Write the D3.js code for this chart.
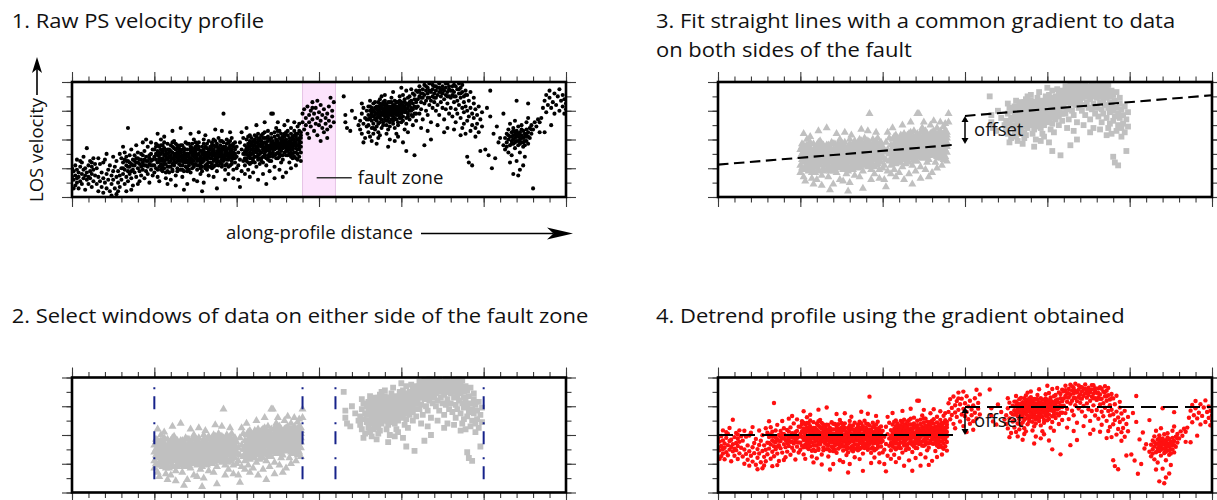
<!DOCTYPE html>
<html>
<head>
<meta charset="utf-8">
<script src="https://cdn.jsdelivr.net/npm/d3@7"></script>
<style>
  body { margin: 0; background: #fff; }
  svg { display: block; }
  text { font-family: 'Open Sans', 'Noto Sans', sans-serif; fill: #111; }
</style>
</head>
<body>
<svg id="fig" width="1217" height="500"></svg>
<script>
// Persistent-scatterer samples along the profile, flat [distance, velocity, ...] lists.
// Distance runs 0–300 along the profile, LOS velocity 0–80 (arbitrary units).
const westFlank = [
  1,12, 1,18, 2,8, 2,15, 2,22, 3,10, 3,19, 3,26, 4,6, 4,14, 4,17, 5,21, 5,11, 6,16, 6,24, 6,9,
  7,13, 7,19, 7,28, 8,15, 8,20, 8,5, 9,12, 9,17, 9,34, 10,22, 10,14, 10,9, 11,18, 11,25, 11,13,
  12,16, 12,21, 12,7, 13,19, 13,27, 13,11, 14,15, 14,23, 0,14, 0,20, 1,6, 5,25, 3,13, 12,24,
  15,9, 15,20, 16,4, 16,14, 17,11, 17,23, 18,7, 18,17, 19,3, 19,13, 20,10, 20,26, 21,6, 21,16,
  22,19, 22,12, 23,4, 23,22, 24,9, 24,15, 25,28, 25,18, 25,12, 26,6, 26,21, 27,14, 27,2, 27,25,
  28,10, 28,18, 29,15, 29,30, 29,7, 16,27, 21,30, 24,1, 28,4, 19,24
];
const westRise = [
  30,12, 30,20, 30,27, 31,16, 31,24, 32,9, 32,19, 32,31, 33,14, 33,22, 33,28, 34,18, 34,25, 34,11,
  35,21, 35,29, 35,16, 36,23, 36,33, 36,13, 37,19, 37,26, 37,8, 38,22, 38,29, 38,17, 39,24, 39,14,
  39,36, 40,20, 40,27, 40,31, 41,18, 41,23, 41,11, 42,26, 42,21, 42,15, 43,29, 43,24, 43,19, 44,22,
  44,32, 44,13, 45,25, 45,18, 45,28, 46,21, 46,35, 46,16, 47,27, 47,23, 47,10, 48,30, 48,19, 48,25,
  49,22, 49,33, 49,15, 34,48, 36,5, 43,38, 31,35, 45,40, 40,9, 48,38, 33,4,
  31,20, 33,25, 35,24, 37,22, 39,27, 41,26, 43,22, 45,22, 47,29, 49,26, 32,26, 36,18, 40,24, 44,26,
  48,22, 34,21, 38,25, 42,30, 46,25
];
const westCloud = [
  50,28, 50,22, 50,33, 50,17, 51,26, 51,30, 51,20, 51,37, 52,24, 52,29, 52,14, 52,32, 53,27, 53,21,
  53,35, 53,25, 54,30, 54,19, 54,26, 54,23, 54,40, 52,44, 53,11,
  55,27, 55,31, 55,22, 55,18, 56,29, 56,25, 56,34, 56,20, 57,28, 57,23, 57,32, 57,13, 58,26, 58,30,
  58,21, 58,37, 59,24, 59,28, 59,33, 59,17, 56,42, 58,9, 55,36,
  60,29, 60,25, 60,32, 60,21, 61,27, 61,23, 61,35, 61,18, 62,30, 62,26, 62,22, 62,39, 63,28, 63,24,
  63,33, 63,15, 64,27, 64,31, 64,20, 64,36, 61,46, 63,8, 60,12,
  65,26, 65,30, 65,23, 65,34, 66,28, 66,19, 66,32, 66,25, 67,29, 67,22, 67,36, 67,27, 68,24, 68,31,
  68,18, 68,27, 69,30, 69,26, 69,21, 69,38, 66,48, 68,5, 67,14,
  70,28, 70,24, 70,33, 70,20, 71,30, 71,26, 71,22, 71,37, 72,27, 72,31, 72,17, 72,24, 73,29, 73,34,
  73,23, 73,26, 74,28, 74,21, 74,32, 74,40, 72,44, 74,12, 70,9,
  75,27, 75,31, 75,23, 75,35, 76,29, 76,25, 76,19, 76,33, 77,30, 77,26, 77,22, 77,38, 78,28, 78,32,
  78,24, 78,16, 79,27, 79,30, 79,21, 79,35, 77,45, 76,11, 79,4,
  80,29, 80,33, 80,25, 80,37, 81,31, 81,27, 81,22, 81,35, 82,30, 82,26, 82,34, 82,19, 83,32, 83,28,
  83,24, 83,39, 84,30, 84,27, 84,35, 84,21, 81,43, 83,15, 80,10,
  85,31, 85,27, 85,36, 85,23, 86,29, 86,33, 86,25, 86,40, 87,30, 87,35, 87,22, 87,28, 88,32, 88,27,
  88,37, 88,18, 89,30, 89,25, 89,34, 89,41, 87,47, 86,14, 88,6,
  90,32, 90,28, 90,36, 90,24, 91,30, 91,34, 91,26, 91,21, 92,33, 92,29, 92,38, 92,25, 93,31, 93,27,
  93,35, 93,19, 94,29, 94,33, 94,23, 94,40, 92,58, 91,46, 93,12,
  95,30, 95,34, 95,26, 95,38, 96,32, 96,28, 96,22, 96,36, 97,29, 97,33, 97,25, 97,41, 98,31, 98,27,
  98,35, 98,19, 99,30, 99,24, 99,33, 99,38, 96,45, 98,13, 95,16,
  51,35, 52,19, 53,31, 54,36, 55,20, 56,38, 57,17, 58,33, 59,21, 60,36, 61,19, 62,28, 63,37, 64,18,
  65,32, 66,36, 67,19, 68,34, 69,28, 70,37, 71,19, 72,35, 73,20, 74,25, 75,38, 76,22, 77,35, 78,20,
  79,24, 80,40, 81,20, 82,37, 83,21, 84,24, 85,38, 86,21, 87,39, 88,24, 89,22, 90,39, 91,23, 92,35,
  93,22, 94,37, 95,21, 96,39, 97,23, 98,37, 99,27, 52,36, 55,33, 58,18, 61,38, 64,34, 67,33, 70,18,
  73,37, 76,36, 79,18, 82,21, 85,20, 88,35, 91,39, 94,26, 97,36
];
const westCloudEast = [
  100,28, 100,35, 101,31, 101,22, 102,38, 102,26, 103,33, 103,18, 104,30, 104,41, 101,12, 103,45,
  100,20, 104,25, 102,7,
  105,32, 105,36, 105,27, 105,22, 106,34, 106,30, 106,40, 106,25, 107,33, 107,29, 107,37, 107,19,
  108,35, 108,31, 108,27, 108,43, 109,33, 109,38, 109,24, 109,30, 106,48, 108,14, 105,16,
  110,34, 110,30, 110,39, 110,25, 111,36, 111,32, 111,28, 111,43, 112,35, 112,31, 112,38, 112,21,
  113,33, 113,37, 113,29, 113,26, 114,36, 114,32, 114,41, 114,23, 112,50, 110,17, 113,12,
  115,35, 115,31, 115,39, 115,27, 116,37, 116,33, 116,44, 116,24, 117,34, 117,38, 117,30, 117,28,
  118,36, 118,32, 118,41, 118,22, 119,35, 119,39, 119,29, 119,46, 117,52, 116,16, 118,9,
  120,36, 120,32, 120,40, 120,28, 121,38, 121,34, 121,44, 121,25, 122,35, 122,39, 122,31, 122,58,
  123,37, 123,33, 123,42, 123,21, 124,36, 124,40, 124,30, 124,48, 121,58, 120,18, 123,13,
  125,35, 125,39, 125,31, 125,43, 126,37, 126,33, 126,28, 126,46, 127,36, 127,40, 127,32, 127,24,
  128,38, 128,34, 128,42, 128,29, 129,35, 129,39, 129,31, 129,50, 126,19, 128,14, 125,52,
  130,36, 130,40, 130,32, 130,45, 131,38, 131,34, 131,29, 131,43, 132,37, 132,41, 132,33, 132,24,
  133,35, 133,39, 133,31, 133,48, 134,37, 134,42, 134,33, 134,27, 131,53, 133,20, 130,17,
  135,36, 135,40, 135,31, 135,46, 136,38, 136,34, 136,42, 136,27, 137,36, 137,30, 137,44, 137,49,
  138,39, 138,33, 138,28, 138,41, 139,35, 139,45, 139,38, 139,25, 136,22, 138,51, 135,52,
  105,30, 106,27, 107,42, 108,23, 109,41, 110,27, 111,24, 112,42, 113,40, 114,27, 115,43, 116,28,
  117,41, 118,27, 119,42, 120,25, 121,41, 122,28, 123,45, 124,27, 125,46, 126,30, 127,44, 128,26,
  129,44, 130,29, 131,46, 132,30, 133,44, 134,30, 135,43, 136,31, 137,33, 138,46, 139,31, 107,24,
  111,40, 115,25, 119,26, 123,29, 127,29, 131,32, 135,28, 139,43, 109,27, 113,44, 117,45, 121,30,
  125,27, 129,42, 133,28, 137,26
];
const faultZonePoints = [
  140,52, 140,58, 141,47, 141,61, 142,55, 142,50, 143,63, 143,44, 144,57, 144,52, 145,49, 145,60,
  146,54, 146,66, 147,46, 147,58, 148,51, 148,62, 149,55, 149,43, 150,59, 150,50, 151,53, 151,64,
  152,48, 152,57, 153,61, 153,45, 154,55, 154,51, 155,58, 155,41, 156,63, 156,53, 157,69, 157,49,
  158,56, 158,60, 159,52, 159,66, 144,41, 151,39, 155,47, 146,62, 149,67,
  165,70, 166,57, 167,48, 166,52, 169,46, 172,55, 170,60, 174,50
];
const eastCloud = [
  175,53, 175,47, 176,58, 176,44, 177,51, 177,62, 178,55, 178,41, 179,49, 179,60, 177,38, 176,65, 179,54,
  180,57, 180,50, 180,63, 180,45, 181,55, 181,60, 181,42, 181,67, 182,53, 182,58, 182,48, 182,62,
  183,56, 183,51, 183,65, 183,44, 184,59, 184,54, 184,62, 184,47, 182,39,
  185,58, 185,53, 185,63, 185,49, 186,60, 186,56, 186,66, 186,45, 187,57, 187,62, 187,52, 187,68,
  188,59, 188,54, 188,64, 188,48, 189,61, 189,57, 189,52, 189,66, 186,41, 188,70, 185,37, 187,43,
  190,58, 190,62, 190,54, 190,67, 191,60, 191,56, 191,50, 191,64, 192,59, 192,63, 192,55, 192,47,
  193,61, 193,57, 193,66, 193,52, 194,59, 194,63, 194,54, 194,69, 191,44, 193,40, 190,71, 192,35,
  195,60, 195,56, 195,64, 195,51, 196,62, 196,58, 196,67, 196,48, 197,59, 197,63, 197,54, 197,44,
  198,61, 198,57, 198,66, 198,50, 199,60, 199,64, 199,55, 199,70, 196,39, 198,42, 195,73,
  200,62, 200,58, 200,66, 200,52, 201,60, 201,64, 201,56, 201,71, 202,63, 202,59, 202,68, 202,47,
  203,61, 203,65, 203,55, 203,74, 204,62, 204,58, 204,69, 204,45, 201,38, 203,32, 200,76,
  205,64, 205,60, 205,70, 205,54, 206,62, 206,67, 206,57, 206,75, 207,65, 207,61, 207,72, 207,50,
  208,63, 208,68, 208,58, 208,29, 209,66, 209,62, 209,74, 209,53,
  180,54, 181,63, 183,48, 184,66, 185,55, 186,51, 187,65, 189,50, 190,65, 191,53, 193,49, 194,66,
  195,53, 197,66, 198,52, 199,67, 200,64, 201,53, 202,66, 203,51, 204,56, 205,66, 206,60, 207,56,
  208,71, 209,58, 182,60, 186,63, 189,64, 192,66
];
const eastUpper = [
  210,68, 210,73, 210,63, 211,70, 211,77, 211,58, 212,66, 212,72, 212,61, 213,75, 213,69, 213,54,
  214,71, 214,78, 214,65, 215,67, 215,74, 215,60, 216,72, 216,76, 216,57, 217,69, 217,79, 217,64,
  218,73, 218,67, 218,52, 219,75, 219,70, 219,62, 212,48, 216,46, 218,40, 214,36,
  220,72, 220,77, 220,66, 221,74, 221,69, 221,60, 222,76, 222,71, 222,64, 223,73, 223,79, 223,57,
  224,70, 224,75, 224,66, 225,77, 225,62, 225,72, 226,74, 226,68, 226,54, 227,76, 227,71, 227,61,
  228,73, 228,79, 228,65, 229,70, 229,75, 229,58, 222,50, 226,45, 228,48,
  230,74, 230,69, 230,62, 231,77, 231,71, 231,56, 232,73, 232,66, 232,78, 233,70, 233,61, 233,52,
  234,75, 234,67, 234,58, 235,72, 235,79, 235,64, 236,69, 236,55, 236,76, 237,73, 237,62, 237,48,
  238,70, 238,66, 238,59, 239,74, 239,63, 239,44, 232,47, 236,43, 238,51,
  240,71, 240,60, 240,53, 240,28, 241,67, 241,56, 241,24, 242,73, 242,62, 242,46, 243,58, 243,50,
  243,22, 244,65, 244,55, 244,69, 245,48, 245,61, 245,42, 246,57, 246,51, 247,63, 247,45, 248,54,
  248,32, 249,49, 249,59,
  211,74, 213,72, 215,77, 217,74, 219,78, 221,77, 223,76, 225,75, 227,79, 229,77, 231,74, 233,77,
  235,75, 237,78, 239,71, 212,69, 216,69, 220,69, 224,73, 228,70, 232,70, 236,72
];
const eastTail = [
  251,33, 253,29, 254,56, 254,74, 256,44, 258,49, 259,38, 260,41, 262,58, 257,27, 252,62, 255,20,
  262,36, 263,41, 263,33, 264,44, 264,38, 265,40, 265,47, 265,31, 266,42, 266,36, 266,51, 267,39,
  267,45, 267,29, 268,43, 268,37, 268,48, 269,41, 269,34, 269,53, 270,44, 270,39, 270,25, 270,46,
  271,42, 271,36, 271,49, 272,40, 272,45, 272,31, 272,19, 273,43, 273,38, 273,50, 274,41, 274,46,
  274,35, 274,22, 275,44, 275,39, 275,28, 276,47, 276,42, 276,52, 277,45, 277,37, 277,55, 278,48,
  278,41, 279,50, 279,44, 280,47, 280,6, 281,52, 282,49, 283,54, 284,45, 270,67, 277,65, 266,24,
  268,16, 271,15,
  265,43, 267,37, 269,45, 271,39, 273,47, 275,36, 277,42, 279,47, 264,35, 272,37, 276,39, 268,46,
  285,55, 286,62, 287,67, 288,71, 288,59, 289,64, 290,69, 290,74, 291,62, 292,66, 293,72, 293,58,
  294,64, 295,70, 296,60, 296,75, 297,67, 298,63, 298,71, 299,58, 299,68, 300,65, 300,61, 287,45,
  291,50, 284,52
];
// Tightly packed samples at the cores of the main clusters
const clusterCores = [
  53,29, 55,25, 57,30, 58,27, 60,27, 61,31, 62,24, 63,30, 64,25, 65,28, 66,31, 67,25, 68,29, 69,24,
  70,30, 71,28, 72,33, 73,25, 74,30, 75,29, 76,27, 77,33, 78,26, 79,32, 80,31, 81,29, 82,28, 83,30,
  84,33, 85,29, 86,31, 87,26, 88,30, 89,28, 90,30, 91,32, 92,27, 93,33, 94,31, 95,28, 96,30, 97,31,
  98,29, 54,33, 56,23, 59,31, 62,34, 66,22, 71,25, 75,33, 78,22, 82,23, 86,36, 89,32, 93,29, 96,34,
  57,26, 64,29, 69,33, 73,31, 80,27, 85,34, 91,28, 97,27,
  106,32, 107,35, 108,29, 109,36, 110,32, 111,38, 112,33, 113,35, 114,30, 115,37, 116,35, 117,32,
  118,38, 119,33, 120,34, 121,36, 122,37, 123,35, 124,38, 125,37, 126,35, 127,38, 128,36, 129,37,
  130,38, 131,36, 132,39, 133,37, 134,35, 135,38, 136,36, 137,40, 138,37, 139,41, 108,39, 112,28,
  116,41, 120,30, 124,34, 128,40, 132,35, 136,44, 110,36, 114,39, 118,34, 122,33, 126,41, 130,34,
  134,40, 138,35,
  182,56, 183,60, 184,57, 185,61, 186,58, 187,55, 187,60, 188,62, 189,59, 190,56, 190,60, 191,62,
  191,58, 192,57, 192,61, 193,59, 193,63, 194,57, 194,61, 195,58, 195,62, 196,60, 196,55, 197,61,
  197,57, 198,59, 198,63, 199,62, 199,57, 200,60, 201,62, 202,61, 203,59, 204,64, 188,57, 192,53,
  196,64, 200,55,
  268,40, 270,42, 272,43, 274,38, 271,44, 273,41, 269,38, 275,42, 267,42, 276,44
];

// Profile geometry and fit results
const faultZone = [140, 160];
const westWindow = [50, 140];
const eastWindow = [160, 250];
const faultPosition = 150;
const westFitEnd = 144;
const fitGradient = 0.096;
const westIntercept = 22.5;
const eastIntercept = 42;
const detrendedWestLevel = 40;

const xMinorTicks = d3.range(0, 301, 10);
const xMajorTicks = d3.range(0, 301, 50);
const yMinorTicks = d3.range(0, 81, 10);
const yMajorTicks = d3.range(0, 81, 20);

const panelTitles = {
  raw: ["1. Raw PS velocity profile"],
  windows: ["2. Select windows of data on either side of the fault zone"],
  fit: ["3. Fit straight lines with a common gradient to data", "on both sides of the fault"],
  detrended: ["4. Detrend profile using the gradient obtained"]
};

// ---------------------------------------------------------------------------
const svg = d3.select("#fig");
const W = 494, H = 115;
const x = d3.scaleLinear().domain([0, 300]).range([0, W]);
const y = d3.scaleLinear().domain([0, 80]).range([H, 0]);

const profile = [westFlank, westRise, westCloud, westCloudEast, faultZonePoints, eastCloud, eastUpper, eastTail, clusterCores]
  .flatMap(arr => d3.range(0, arr.length, 2).map(i => ({ dist: arr[i], vel: arr[i + 1] })));
const within = (p, w) => p.dist >= w[0] && p.dist <= w[1];
const westSelection = profile.filter(p => within(p, westWindow));
const eastSelection = profile.filter(p => within(p, eastWindow));
const detrended = profile.map(p => ({
  dist: p.dist,
  vel: p.vel - fitGradient * p.dist + (detrendedWestLevel - westIntercept)
}));

const gray = "#c0c0c0";

// Text is positioned through transforms so it can be widened slightly to the caption widths
const textItems = [];
function addText(parent, kind, tx, ty, str, rot = 0, anchor = "start") {
  const t = parent.append("text").attr("class", kind).attr("text-anchor", anchor).text(str);
  textItems.push({ t, tx, ty, rot, kind });
  return t;
}

function makePanel(id, left, top) {
  const g = svg.append("g").attr("transform", `translate(${left},${top})`);
  g.append("clipPath").attr("id", "clip-" + id)
    .append("rect").attr("x", -1).attr("y", -1).attr("width", W + 2).attr("height", H + 2);
  const plot = g.append("g").attr("clip-path", `url(#clip-${id})`);
  return { g, plot };
}

function finishPanel(g) {
  const sides = [
    [() => d3.axisTop(x), "translate(0,0)", xMinorTicks, xMajorTicks],
    [() => d3.axisBottom(x), `translate(0,${H})`, xMinorTicks, xMajorTicks],
    [() => d3.axisLeft(y), "translate(0,0)", yMinorTicks, yMajorTicks],
    [() => d3.axisRight(y), `translate(${W},0)`, yMinorTicks, yMajorTicks]
  ];
  sides.forEach(([make, tr, minor, major]) => {
    [[minor, 5.5], [major, 10]].forEach(([vals, size]) => {
      g.append("g").attr("transform", tr)
        .call(make().tickValues(vals).tickSize(size).tickFormat(""))
        .call(a => a.select(".domain").remove())
        .selectAll("line").attr("stroke", "#3a3a3a").attr("stroke-width", 1.1);
    });
  });
  g.append("rect").attr("width", W).attr("height", H)
    .attr("fill", "none").attr("stroke", "#000").attr("stroke-width", 2.6);
}

function arrowHead(g, x1, y1, x2, y2, len, wid, notch, color) {
  const dx = x2 - x1, dy = y2 - y1, L = Math.hypot(dx, dy);
  const ux = dx / L, uy = dy / L, nx = -uy, ny = ux;
  const bx = x2 - ux * len, by = y2 - uy * len;
  const mx = x2 - ux * len * notch, my = y2 - uy * len * notch;
  g.append("path")
    .attr("d", `M${x2},${y2}L${bx + nx * wid / 2},${by + ny * wid / 2}L${mx},${my}L${bx - nx * wid / 2},${by - ny * wid / 2}Z`)
    .attr("fill", color);
  return [mx, my];
}

function arrow(g, x1, y1, x2, y2, len, wid, notch, width, color = "#000") {
  const [mx, my] = arrowHead(g, x1, y1, x2, y2, len, wid, notch, color);
  g.append("line").attr("x1", x1).attr("y1", y1).attr("x2", mx).attr("y2", my)
    .attr("stroke", color).attr("stroke-width", width);
}

function offsetMarker(g, lowVal, highVal) {
  const ax = x(faultPosition);
  const yLow = y(lowVal), yHigh = y(highVal);
  const mid = (yLow + yHigh) / 2;
  arrowHead(g, ax, mid, ax, yHigh, 6, 7, 1, "#000");
  arrowHead(g, ax, mid, ax, yLow, 6, 7, 1, "#000");
  g.append("line").attr("x1", ax).attr("x2", ax).attr("y1", yHigh + 5).attr("y2", yLow - 5)
    .attr("stroke", "#000").attr("stroke-width", 1.5);
  addText(g, "label", ax + 9, mid + 6, "offset");
}

function dashedLine(g, x0, x1, v0, v1, dash) {
  g.append("line")
    .attr("x1", x(x0)).attr("x2", x(x1)).attr("y1", y(v0)).attr("y2", y(v1))
    .attr("stroke", "#000").attr("stroke-width", 2.1).attr("stroke-dasharray", dash);
}

const triangle = d3.symbol().type(d3.symbolTriangle).size(28)();
const square = d3.symbol().type(d3.symbolSquare).size(34)();

function graySelections(plot) {
  plot.append("g").selectAll("path").data(westSelection).join("path")
    .attr("d", triangle).attr("fill", gray)
    .attr("transform", d => `translate(${x(d.dist)},${y(d.vel)})`);
  plot.append("g").selectAll("path").data(eastSelection).join("path")
    .attr("d", square).attr("fill", gray)
    .attr("transform", d => `translate(${x(d.dist)},${y(d.vel)})`);
}

// ---- Panel 1: raw profile
{
  const { g, plot } = makePanel("raw", 72, 82);
  plot.append("rect")
    .attr("x", x(faultZone[0])).attr("width", x(faultZone[1]) - x(faultZone[0]))
    .attr("y", 0).attr("height", H).attr("fill", "#fce3fc");
  faultZone.forEach(f => plot.append("line").attr("x1", x(f)).attr("x2", x(f)).attr("y1", 0).attr("y2", H)
    .attr("stroke", "#e6c4e6").attr("stroke-width", 1));
  plot.append("g").selectAll("circle").data(profile).join("circle")
    .attr("cx", d => x(d.dist)).attr("cy", d => y(d.vel)).attr("r", 2.05).attr("fill", "#000");
  // fault-zone key
  const ky = y(13.4);
  g.append("line").attr("x1", x(148.6)).attr("x2", x(169.9)).attr("y1", ky).attr("y2", ky)
    .attr("stroke", "#333").attr("stroke-width", 1.6);
  addText(g, "label", x(169.9) + 6, ky + 6, "fault zone");
  finishPanel(g);
}

// ---- Panel 2: data windows either side of the fault zone
{
  const { g, plot } = makePanel("windows", 72, 377.5);
  graySelections(plot);
  [westWindow[0], westWindow[1], eastWindow[0], eastWindow[1]].forEach(b => {
    plot.append("line").attr("x1", x(b)).attr("x2", x(b)).attr("y1", 0).attr("y2", H)
      .attr("stroke", "#16228a").attr("stroke-width", 2)
      .attr("stroke-dasharray", "2,7,13,13").attr("stroke-dashoffset", 25.2);
  });
  finishPanel(g);
}

// ---- Panel 3: common-gradient straight-line fits
{
  const { g, plot } = makePanel("fit", 718, 82);
  graySelections(plot);
  dashedLine(plot, 0, westFitEnd, westIntercept, westIntercept + fitGradient * westFitEnd, "10.5,5.5");
  dashedLine(plot, faultPosition, 300, eastIntercept + fitGradient * faultPosition, eastIntercept + fitGradient * 300, "10.5,5.5");
  offsetMarker(g, westIntercept + fitGradient * faultPosition, eastIntercept + fitGradient * faultPosition);
  finishPanel(g);
}

// ---- Panel 4: detrended profile
{
  const { g, plot } = makePanel("detrended", 718, 377.5);
  plot.append("g").selectAll("circle").data(detrended).join("circle")
    .attr("cx", d => x(d.dist)).attr("cy", d => y(d.vel)).attr("r", 2.2).attr("fill", "#ff1010");
  const eastLevel = detrendedWestLevel + (eastIntercept - westIntercept);
  dashedLine(plot, 0, westFitEnd, detrendedWestLevel, detrendedWestLevel, "15,7");
  dashedLine(plot, faultPosition, 300, eastLevel, eastLevel, "15,7");
  offsetMarker(g, detrendedWestLevel, eastLevel);
  finishPanel(g);
}

// ---- Axis captions on panel 1
addText(svg, "label", 43, 150, "LOS velocity", -90, "middle");
arrow(svg, 37, 95, 37, 57, 16, 10, 0.75, 1.6);
const distLabel = addText(svg, "label", 226, 239, "along-profile distance");
arrow(svg, 421, 233.5, 573, 233.5, 26, 12, 0.75, 1.6);

// ---- Titles
const titleSpots = [
  ["raw", 11.7, 28.3], ["fit", 656, 28.3], ["windows", 11.7, 323.3], ["detrended", 656, 323.3]
];
let titleRef = null;
titleSpots.forEach(([key, tx, ty]) => {
  panelTitles[key].forEach((line, i) => {
    const t = addText(svg, "title", tx, ty + i * 28.7, line);
    if (key === "windows") titleRef = t;
  });
});

const fontSize = { title: 19.5, label: 18 };
textItems.forEach(d => d.t.style("font-size", fontSize[d.kind] + "px"));
const stretch = {
  title: 577 / titleRef.node().getComputedTextLength(),
  label: 187 / distLabel.node().getComputedTextLength()
};
textItems.forEach(d => d.t.attr("transform",
  `translate(${d.tx},${d.ty}) rotate(${d.rot}) scale(${stretch[d.kind]},1)`));
</script>
</body>
</html>
